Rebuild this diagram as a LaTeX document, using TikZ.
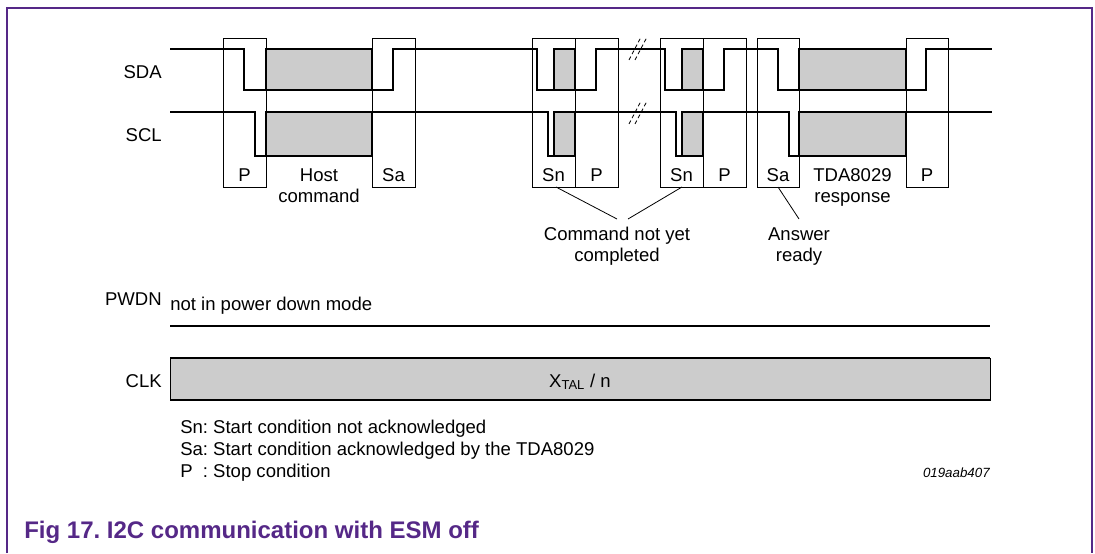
\documentclass[tikz,border=0pt]{standalone}
\usepackage{fontspec}
\setmainfont{Liberation Sans}
\definecolor{nxp}{RGB}{85,40,135}
\definecolor{sig}{RGB}{204,204,204}
\frenchspacing
\begin{document}
\begin{tikzpicture}[x=0.75pt,y=-0.75pt,
  wave/.style={line width=1.4pt, line join=miter},
  thinbox/.style={line width=0.6pt},
  greybox/.style={fill=sig, draw=black, line width=1.4pt},
  lbl/.style={font=\fontsize{13.9}{16}\selectfont, inner sep=0pt, anchor=base},
  lblr/.style={lbl, anchor=base east},
  lbll/.style={lbl, anchor=base west},
  brk/.style={line width=0.6pt, dash pattern=on 3pt off 2pt},
  note/.style={line width=0.6pt}]
\useasboundingbox (0,0) rectangle (1095,553);
% frame
\draw[nxp, line width=0.9pt] (7,553) -- (7,8) -- (1092,8) -- (1092,553);
% grey data areas
\foreach \a/\b in {266/372, 554/575, 682/703, 799/906}{
  \draw[greybox] (\a,49) rectangle (\b,90);
  \draw[greybox] (\a,112) rectangle (\b,156);
}
% boxes
\foreach \a/\b in {223/266, 372/415, 532/575, 575/618, 660/703, 703/746, 757/799, 906/948}{
  \draw[thinbox] (\a,38) rectangle (\b,187);
}
% waveforms
\draw[wave] (170,49) -- (244,49) -- (244,90) -- (393,90) -- (393,49) -- (537,49) -- (537,90) -- (596,90) -- (596,49) -- (665,49) -- (665,90) -- (724,90) -- (724,49) -- (778,49) -- (778,90) -- (926,90) -- (926,49) -- (992,49);
\draw[wave] (170,112) -- (255,112) -- (255,156) -- (372,156) -- (372,112) -- (548,112) -- (548,156) -- (575,156) -- (575,112) -- (676,112) -- (676,156) -- (703,156) -- (703,112) -- (789,112) -- (789,156) -- (906,156) -- (906,112) -- (992,112);
% break marks
\draw[brk] (629,60) -- (641,37);
\draw[brk] (635,60) -- (647,37);
\draw[brk] (629,124) -- (641,101);
\draw[brk] (635,124) -- (647,101);
% signal labels
\node[lblr] (sda) at (162,78) {SDA};
\node[lblr] (scl) at (162,141) {SCL};
\node[lblr] (pwdn) at (162,305) {PWDN};
\node[lblr] (clk) at (162,387) {CLK};
% box labels
\node[lbl] (lp1) at (244.5,181) {P};
\node[lbl] (lhost) at (319,181) {Host};
\node[lbl] (lcmd) at (319,202) {command};
\node[lbl] (lsa1) at (393.5,181) {Sa};
\node[lbl] (lsn1) at (553.5,181) {Sn};
\node[lbl] (lp2) at (596.5,181) {P};
\node[lbl] (lsn2) at (681.5,181) {Sn};
\node[lbl] (lp3) at (724.5,181) {P};
\node[lbl] (lsa2) at (778,181) {Sa};
\node[lbl] (ltda) at (852.5,181) {TDA8029};
\node[lbl] (lresp) at (852.5,202) {response};
\node[lbl] (lp4) at (927,181) {P};
% annotations
\node[lbl] (cny) at (617,240) {Command not yet};
\node[lbl] (cmpl) at (617,261) {completed};
\node[lbl] (ans) at (799,240) {Answer};
\node[lbl] (rdy) at (799,261) {ready};
\coordinate (sn1b) at (556,187);
\coordinate (sn2b) at (682,187);
\coordinate (sa2b) at (778,187);
\coordinate (cnyl) at (617,219);
\coordinate (cnyr) at (628,219);
\coordinate (anst) at (799,219);
\draw[note] (sn1b) -- (cnyl);
\draw[note] (sn2b) -- (cnyr);
\draw[note] (sa2b) -- (anst);
% PWDN
\node[lbll] (pwdntxt) at (170,310) {not in power down mode};
\draw[line width=1.4pt] (170,326) -- (990,326);
% CLK
\draw[fill=sig, draw=black, line width=0.6pt] (170,358) rectangle (990,400);
\draw[line width=1.4pt] (170,358) -- (990,358);
\draw[line width=1.4pt] (170,400) -- (990,400);
\node[lbl] (xtal) at (580,387) {X\textsubscript{TAL} / n};
% legend
\node[lbll] (leg1) at (180,433) {Sn: Start condition not acknowledged};
\node[lbll] (leg2) at (180,455) {Sa: Start condition acknowledged by the TDA8029};
\node[lbll] (leg3) at (180,477) {P\ \ : Stop condition};
\node[font=\fontsize{10}{12}\selectfont\itshape, inner sep=0pt, anchor=base east] (code) at (990,477) {019aab407};
% title
\node[font=\fontsize{18}{21}\selectfont\bfseries, text=nxp, inner sep=0pt, anchor=base west] (title) at (24,538) {Fig 17. I2C communication with ESM off};
\end{tikzpicture}
\end{document}
